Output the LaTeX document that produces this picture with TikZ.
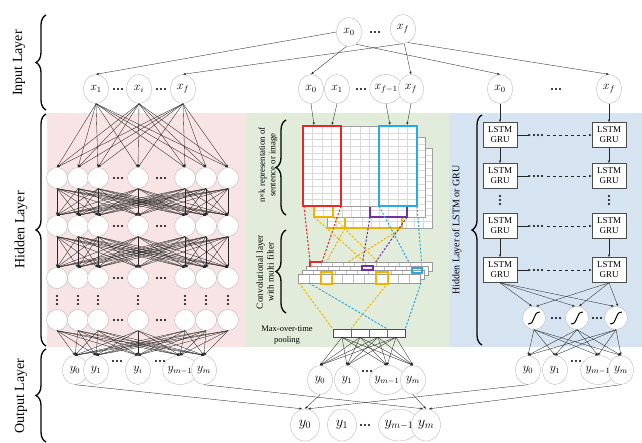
\documentclass[tikz,border=0pt]{standalone}
\usepackage{fontspec}
\setmainfont{Liberation Serif}
\usetikzlibrary{shapes.geometric,arrows.meta,decorations.pathreplacing}
\definecolor{pinkbg}{RGB}{248,228,228}
\definecolor{greenbg}{RGB}{226,236,218}
\definecolor{bluebg}{RGB}{214,228,242}
\definecolor{fred}{RGB}{230,40,40}
\definecolor{fyel}{RGB}{240,180,0}
\definecolor{fpur}{RGB}{112,48,160}
\definecolor{fcya}{RGB}{40,170,230}
\definecolor{ndraw}{RGB}{185,185,185}
\newcommand{\mtxgrid}[4]{%
  \fill[white] (#1,#2) rectangle (#3,#4);
  \foreach \k in {1,...,11}{\draw[gray!30,line width=0.3pt] ({#1+\k*(#3-#1)/12},#2) -- ({#1+\k*(#3-#1)/12},#4);}
  \foreach \k in {1,...,11}{\draw[gray!30,line width=0.3pt] (#1,{#2+\k*(#4-#2)/12}) -- (#3,{#2+\k*(#4-#2)/12});}
  \draw[gray!75,line width=0.7pt] (#1,#2) rectangle (#3,#4);}
\newcommand{\cstripdraw}[2]{%
  \fill[white] (#1,#2) rectangle ({#1+122},{#2+9});
  \foreach \k in {1,...,10}{\draw[gray!50,line width=0.3pt] ({#1+\k*11.1},#2) -- ({#1+\k*11.1},{#2+9});}
  \draw[gray!80,line width=0.6pt] (#1,#2) rectangle ({#1+122},{#2+9});}
\begin{document}
\begin{tikzpicture}[x=1pt,y=-1pt,>={Latex[length=2.6pt,width=2.3pt]},
  inode/.style={ellipse,draw=ndraw,fill=white,minimum width=25pt,minimum height=29pt,inner sep=0pt,font=\fontsize{12}{14}\selectfont},
  fnode/.style={ellipse,draw=ndraw,fill=white,minimum width=29pt,minimum height=32pt,inner sep=0pt,font=\fontsize{14}{16}\selectfont},
  hnode/.style={circle,draw=ndraw,fill=white,minimum size=21pt,inner sep=0pt},
  signode/.style={circle,draw=ndraw,fill=white,minimum size=23pt,inner sep=0pt},
  conn/.style={draw=black!85,line width=0.35pt},
  arr/.style={conn,->},
  lstm/.style={rectangle,draw=black!70,line width=0.6pt,fill=white,minimum width=34pt,minimum height=25pt,align=center,inner sep=0pt,font=\fontsize{9}{10}\selectfont},
  brc/.style={decorate,decoration={brace,amplitude=10pt},line width=1.3pt},
  fdash/.style={dash pattern=on 2.2pt off 1.6pt,line width=1pt},
  lbl/.style={rotate=90,font=\fontsize{14}{16}\selectfont},
  hd/.pic={\fill (-4,0) circle (1.1) (0,0) circle (1.1) (4,0) circle (1.1);},
  vd/.pic={\fill (0,-4) circle (1.1) (0,0) circle (1.1) (0,4) circle (1.1);}]
\useasboundingbox (0,0) rectangle (642,442);
% panels
\fill[pinkbg] (47,113) rectangle (246,347);
\fill[greenbg] (246,113) rectangle (449,347);
\fill[bluebg] (449,113) rectangle (642,347);

% layer labels and braces
\node[lbl] (lin) at (19,63) {Input Layer};
\node[lbl] (lhid) at (21,230) {Hidden Layer};
\node[lbl] (lout) at (21,396) {Output Layer};
\draw[brc] (46,110) -- (46,15);
\draw[brc] (46,346) -- (46,114);
\draw[brc] (46,442) -- (46,349);

% top input
\node[inode] (T0) at (349,32) {$x_0$};
\node[inode] (Tf) at (403,29) {$x_f$};
\pic at (375,32) {hd};

% second input row
\node[inode] (in1) at (96,89) {$x_1$};
\node[inode] (ini) at (139,89) {$x_i$};
\node[inode] (inf) at (183,89) {$x_f$};
\pic at (118,89) {hd};
\pic at (161,89) {hd};
\node[inode] (mx0) at (311,89) {$x_0$};
\node[inode] (mx1) at (337,89) {$x_1$};
\node[inode] (mxf1) at (386,89) {$x_{f-1}$};
\node[inode] (mxf) at (411,89) {$x_f$};
\pic at (361,89) {hd};
\node[inode] (rx0) at (500,89) {$x_0$};
\node[inode] (rxf) at (609,89) {$x_f$};
\pic at (556,89) {hd};

\draw[arr] (T0.west) -- (in1.north);
\draw[arr] (Tf.south) -- (inf.north);
\draw[arr] (T0.-100) -- (mx0.north);
\draw[arr] (Tf.-85) -- (mxf.north);
\draw[arr] (T0.-60) -- (rx0.north);
\draw[arr] (Tf.-70) -- (rxf.north);

% ---------------- left panel
\foreach \r/\y in {1/178,2/226,3/278,4/320}{
  \foreach \i/\x in {1/57,2/78,3/98,4/138,5/185,6/206,7/228}{
    \node[hnode] (h\r\i) at (\x,\y) {};
  }
  \pic at (118,\y) {hd};
  \pic at (161,\y) {hd};
}
\foreach \x in {57,78,98,138,185,206,228}{\pic at (\x,300) {vd};}
\node[inode] (lo0) at (75,370) {$y_0$};
\node[inode] (lo1) at (96,370) {$y_1$};
\node[inode] (loi) at (138,370) {$y_i$};
\node[inode] (lom1) at (180,370) {$y_{m-1}$};
\node[inode] (lom) at (204,370) {$y_m$};
\pic at (117,361) {hd};
\pic at (160,361) {hd};
\foreach \a in {in1,ini,inf}{\foreach \j in {1,...,7}{\draw[arr] (\a.south) -- (h1\j.north);}}
\foreach \r/\s in {1/2,2/3}{\foreach \i in {1,...,7}{\foreach \j in {1,...,7}{\draw[arr] (h\r\i.south) -- (h\s\j.north);}}}
\foreach \i in {1,...,7}{\foreach \o in {lo0,lo1,loi,lom1,lom}{\draw[arr] (h4\i.south) -- (\o.north);}}

% ---------------- middle panel
\draw[brc] (286,215) -- (286,120);
\draw[brc] (286,313) -- (286,230);
\node[rotate=90,align=center,font=\fontsize{8.8}{10.5}\selectfont] (tmat) at (268,165) {n×k representation of\\sentence or image};
\node[rotate=90,align=center,font=\fontsize{9.3}{10.8}\selectfont] (tconv) at (265,272) {Convolutional layer\\with multi filter};

\mtxgrid{327}{148}{432}{228}
\mtxgrid{314}{137}{425}{217}
\draw[fyel,line width=1.1pt] (345,217) -- (345,228) (327,228) -- (402,228) (402,217) -- (402,228);
\draw[fyel,line width=1.1pt] (314,206) -- (314,217) -- (333,217) -- (333,206);
\draw[fpur,line width=1.1pt] (370,206) -- (370,217) -- (407,217) -- (407,206);
\mtxgrid{303}{126}{417}{206}
\draw[fred,line width=1.3pt] (303,126) rectangle (341,206);
\draw[fcya,line width=1.3pt] (379,126) rectangle (417,206);

\coordinate (m0) at (314,125);
\coordinate (m1) at (332,125);
\coordinate (m2) at (390,125);
\coordinate (m3) at (407,125);
\draw[arr] (mx0.south) -- (m0);
\draw[arr] (mx1.south) -- (m1);
\draw[arr] (mxf1.south) -- (m2);
\draw[arr] (mxf.south) -- (m3);

% dashed filter lines
\draw[fdash,fred] (304,206) -- (310,262) (341,206) -- (322,262);
\draw[fdash,fyel] (314,217) -- (376,272) (333,217) -- (388,272) (345,228) -- (321,272) (402,228) -- (332,272);
\draw[fdash,fpur] (370,217) -- (362,266) (407,217) -- (373,266);
\draw[fdash,fcya] (379,206) -- (412,268) (417,206) -- (422,268);

% conv strips
\cstripdraw{310}{262}
\cstripdraw{306}{266}
\cstripdraw{302}{270}
\cstripdraw{298}{274}
\draw[fred,line width=1.1pt] (310,267) -- (310,262) -- (322,262);
\draw[fpur,line width=1.1pt] (362,266) rectangle (373,270);
\draw[fcya,line width=1.1pt] (412,268) rectangle (422,273);
\draw[fyel,line width=1.2pt] (321,272) rectangle (332,284);
\draw[fyel,line width=1.2pt] (376,272) rectangle (388,284);

% pooling
\node[draw=black!70,fill=white,line width=0.6pt,minimum width=72pt,minimum height=8pt,inner sep=0pt] (pool) at (369,333) {};
\foreach \dx in {-18,0,18}{\draw[black!60,line width=0.4pt] ([xshift=\dx pt]pool.north) -- ([xshift=\dx pt]pool.south);}
\draw[fdash,fyel] (299,283) -- (pool.north west) (388,283) -- ([xshift=-18pt]pool.north);
\draw[fdash,fcya] (309,283) -- ([xshift=18pt]pool.north) (421,283) -- (pool.north east);
\node[align=center,font=\fontsize{8.5}{11}\selectfont] (tpool) at (287,335) {Max-over-time\\pooling};

\node[inode] (mo0) at (320,380) {$y_0$};
\node[inode] (mo1) at (347,380) {$y_1$};
\node[inode] (mom1) at (387,380) {$y_{m-1}$};
\node[inode] (mom) at (413,380) {$y_m$};
\pic at (367,371) {hd};
\foreach \dx in {-27,-9,9,27}{\foreach \o in {mo0,mo1,mom1,mom}{\draw[arr] ([xshift=\dx pt]pool.south) -- (\o.north);}}

% ---------------- right panel
\draw[brc] (482,345) -- (482,115);
\node[rotate=90,font=\fontsize{10}{12}\selectfont] (tlstm) at (457,230) {Hidden Layer of LSTM or GRU};
\foreach \k/\y in {1/135,2/176,3/226,4/270}{
  \node[lstm] (L\k) at (500,\y) {LSTM\\GRU};
  \node[lstm] (R\k) at (609,\y) {LSTM\\GRU};
  \coordinate (ha\k) at (531,\y);
  \coordinate (hb\k) at (547,\y);
  \draw[arr] (L\k.east) -- (ha\k);
  \pic at (538,\y) {hd};
  \draw[arr,dashed] (hb\k) -- (R\k.west);
}
\pic at (500,200) {vd};
\pic at (609,200) {vd};
\draw[arr] (rx0.south) -- (L1.north);
\draw[arr] (rxf.south) -- (R1.north);
\draw[arr] (L1.south) -- (L2.north);
\draw[arr] (R1.south) -- (R2.north);
\draw[arr] (L3.south) -- (L4.north);
\draw[arr] (R3.south) -- (R4.north);

\foreach \k/\x in {1/534,2/577,3/616}{
  \node[signode] (s\k) at (\x,318) {};
  \draw[line width=1pt] ([shift={(-6,6)}]s\k.center) .. controls ([shift={(2,6)}]s\k.center) and ([shift={(-2,-6)}]s\k.center) .. ([shift={(6,-6)}]s\k.center);
}
\pic at (556,318) {hd};
\pic at (597,318) {hd};
\foreach \k in {1,2,3}{
  \draw[arr] (L4.south) -- ([xshift=-2pt]s\k.north);
  \draw[arr] (R4.south) -- ([xshift=2pt]s\k.north);
}
\node[inode] (ro0) at (528,370) {$y_0$};
\node[inode] (ro1) at (555,370) {$y_1$};
\node[inode] (rom1) at (598,370) {$y_{m-1}$};
\node[inode] (rom) at (621,370) {$y_m$};
\pic at (576,361) {hd};
\foreach \k in {1,2,3}{\foreach \o in {ro0,ro1,rom1,rom}{\draw[arr] (s\k.south) -- (\o.north);}}

% ---------------- final output
\node[fnode] (f0) at (305,425) {$y_0$};
\node[fnode] (f1) at (342,425) {$y_1$};
\node[fnode] (fm1) at (399,425) {$y_{m-1}$};
\node[fnode] (fm) at (426,425) {$y_m$};
\pic at (365,425) {hd};
\draw[arr] (lo0.south) -- ([xshift=-3pt]f0.north);
\draw[arr] (mo0.south) -- (f0.north);
\draw[arr] (ro0.south) -- ([xshift=3pt]f0.north);
\draw[arr] (lom.south) -- ([xshift=-3pt]fm.north);
\draw[arr] (mom.south) -- (fm.north);
\draw[arr] (rom.south) -- ([xshift=3pt]fm.north);
\end{tikzpicture}
\end{document}
